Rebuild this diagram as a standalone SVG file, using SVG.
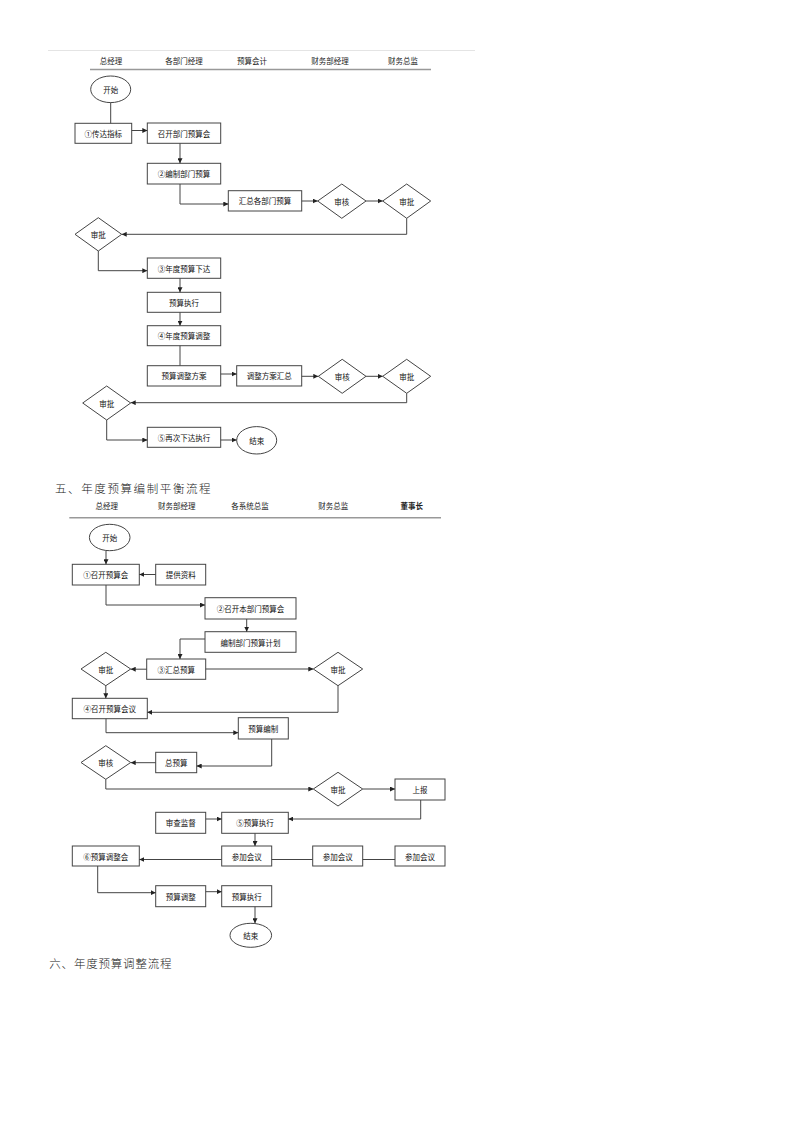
<svg xmlns="http://www.w3.org/2000/svg" width="800" height="1132" viewBox="0 0 800 1132">
<defs>
<marker id="arr" viewBox="0 0 10 10" refX="10" refY="5" markerWidth="5" markerHeight="5" orient="auto" markerUnits="userSpaceOnUse"><path d="M0,0 L10,5 L0,10 z" fill="#222"/></marker>
<style>
.n rect,.n ellipse,.n polygon{fill:#fff;stroke:#444;stroke-width:1}
.t{font-family:"Noto Sans CJK SC","Liberation Sans",sans-serif;font-size:7.5px;fill:#111;text-anchor:middle;dominant-baseline:central}
.h{font-family:"Noto Sans CJK SC","Liberation Sans",sans-serif;font-size:7.5px;fill:#222;text-anchor:middle;dominant-baseline:central}
.sec{font-family:"Noto Sans CJK SC","Liberation Serif",serif;font-size:11.5px;fill:#222;font-weight:300;dominant-baseline:central}
.c path,.c line{fill:none;stroke:#444;stroke-width:1}
.a{marker-end:url(#arr)}
</style>
</defs>
<rect width="800" height="1132" fill="#fff"/>

<!-- Section 1 header -->
<g id="header1">
<line x1="48" y1="50.5" x2="475" y2="50.5" stroke="#e4e4e4" stroke-width="1"/>
<text class="h" x="111" y="60">总经理</text>
<text class="h" x="184" y="60">各部门经理</text>
<text class="h" x="252" y="60">预算会计</text>
<text class="h" x="330" y="60">财务部经理</text>
<text class="h" x="403" y="60">财务总监</text>
<line x1="90" y1="69.5" x2="431" y2="69.5" stroke="#999" stroke-width="1.5"/>
</g>

<g id="s1-start" class="n"><ellipse cx="110.7" cy="89.3" rx="20" ry="13.3"/><text class="t" x="110.7" y="89.3">开始</text></g>
<g id="s1-n1" class="n"><rect x="75" y="123.3" width="56.7" height="20"/><text class="t" x="103.3" y="133.3">①传达指标</text></g>
<g id="s1-n2" class="n"><rect x="147.3" y="123" width="73.4" height="20.3"/><text class="t" x="184" y="133.2">召开部门预算会</text></g>
<g id="s1-n3" class="n"><rect x="147.3" y="163.3" width="73.4" height="20.7"/><text class="t" x="184" y="173.7">②编制部门预算</text></g>
<g id="s1-n4" class="n"><rect x="228.3" y="190.7" width="73.4" height="20.3"/><text class="t" x="265" y="200.9">汇总各部门预算</text></g>
<g id="s1-d1" class="n"><polygon points="317.7,201 341.8,184 366,201 341.8,218.3"/><text class="t" x="341.8" y="201">审核</text></g>
<g id="s1-d2" class="n"><polygon points="382.7,201 406.7,184 430.7,201 406.7,218.3"/><text class="t" x="406.7" y="201">审批</text></g>
<g id="s1-d3" class="n"><polygon points="75,234.3 98.3,217.7 121.7,234.3 98.3,251"/><text class="t" x="98.3" y="234.3">审批</text></g>
<g id="s1-n5" class="n"><rect x="147.3" y="258" width="73.4" height="20.3"/><text class="t" x="184" y="268.2">③年度预算下达</text></g>
<g id="s1-n6" class="n"><rect x="147.3" y="292.3" width="73.4" height="20"/><text class="t" x="184" y="302.3">预算执行</text></g>
<g id="s1-n7" class="n"><rect x="147.3" y="325.7" width="73.4" height="20"/><text class="t" x="184" y="335.7">④年度预算调整</text></g>
<g id="s1-n8" class="n"><rect x="147.3" y="365.7" width="73.4" height="20.3"/><text class="t" x="184" y="375.9">预算调整方案</text></g>
<g id="s1-n9" class="n"><rect x="236.7" y="365.7" width="65" height="20.3"/><text class="t" x="269.2" y="375.9">调整方案汇总</text></g>
<g id="s1-d4" class="n"><polygon points="318.3,376.3 342.2,359.3 366,376.3 342.2,393.3"/><text class="t" x="342.2" y="376.3">审核</text></g>
<g id="s1-d5" class="n"><polygon points="382.7,376.3 406.7,359.3 430.7,376.3 406.7,393.3"/><text class="t" x="406.7" y="376.3">审批</text></g>
<g id="s1-d6" class="n"><polygon points="82.7,403 106.7,386 130.7,403 106.7,420"/><text class="t" x="106.7" y="403">审批</text></g>
<g id="s1-n10" class="n"><rect x="147.3" y="427.3" width="73.4" height="20"/><text class="t" x="184" y="437.3">⑤再次下达执行</text></g>
<g id="s1-end" class="n"><ellipse cx="256.7" cy="440.3" rx="20" ry="13.7"/><text class="t" x="256.7" y="440.3">结束</text></g>

<g id="connectors1" class="c">
<line x1="110.7" y1="102.6" x2="110.7" y2="123.3"/>
<line class="a" x1="131.7" y1="130.5" x2="147.3" y2="130.5"/>
<line class="a" x1="180" y1="143.3" x2="180" y2="163.3"/>
<path class="a" d="M180,184 V204 H228.3"/>
<line class="a" x1="301.7" y1="201" x2="317.7" y2="201"/>
<line class="a" x1="366" y1="201" x2="382.7" y2="201"/>
<path class="a" d="M406.7,218.3 V234.3 H121.7"/>
<path class="a" d="M98.3,251 V270.7 H147.3"/>
<line class="a" x1="180" y1="278.3" x2="180" y2="292.3"/>
<line class="a" x1="180" y1="312.3" x2="180" y2="325.7"/>
<line x1="180" y1="345.7" x2="180" y2="365.7"/>
<line class="a" x1="220.7" y1="374" x2="236.7" y2="374"/>
<line class="a" x1="301.7" y1="376.3" x2="318.3" y2="376.3"/>
<line class="a" x1="366" y1="376.3" x2="382.7" y2="376.3"/>
<path class="a" d="M406.7,393.3 V402.7 H130.7"/>
<path class="a" d="M106.7,420 V440 H147.3"/>
<line class="a" x1="220.7" y1="440" x2="236.7" y2="440"/>
</g>

<!-- Section 2 -->
<text id="title1" class="sec" x="55" y="487.5" letter-spacing="1.6">五、年度预算编制平衡流程</text>
<g id="header2">
<text class="h" x="106.7" y="505">总经理</text>
<text class="h" x="176.7" y="505">财务部经理</text>
<text class="h" x="250" y="505">各系统总监</text>
<text class="h" x="333.3" y="505">财务总监</text>
<text class="h" x="411.7" y="505" font-weight="bold">董事长</text>
<line x1="69.3" y1="517.7" x2="441" y2="517.7" stroke="#999" stroke-width="1.5"/>
</g>

<g id="s2-start" class="n"><ellipse cx="109.7" cy="537.5" rx="20.3" ry="13.2"/><text class="t" x="109.7" y="537.5">开始</text></g>
<g id="s2-n1" class="n"><rect x="72.3" y="564.3" width="67" height="20.7"/><text class="t" x="105.8" y="574.7">①召开预算会</text></g>
<g id="s2-n2" class="n"><rect x="155.7" y="564.3" width="50" height="20.7"/><text class="t" x="180.7" y="574.7">提供资料</text></g>
<g id="s2-n3" class="n"><rect x="205" y="597.7" width="91" height="21.3"/><text class="t" x="250.5" y="608.3">②召开本部门预算会</text></g>
<g id="s2-n4" class="n"><rect x="205" y="631.7" width="91" height="20.6"/><text class="t" x="250.5" y="642">编制部门预算计划</text></g>
<g id="s2-n5" class="n"><rect x="146.7" y="659" width="59" height="20.3"/><text class="t" x="176.2" y="669.2">③汇总预算</text></g>
<g id="s2-d1" class="n"><polygon points="81,669 105.8,652.3 130.7,669 105.8,685.7"/><text class="t" x="105.8" y="669">审批</text></g>
<g id="s2-d2" class="n"><polygon points="313.3,669 338,652.3 362.7,669 338,685.7"/><text class="t" x="338" y="669">审批</text></g>
<g id="s2-n6" class="n"><rect x="72.3" y="698.3" width="75" height="20.4"/><text class="t" x="109.8" y="708.5">④召开预算会议</text></g>
<g id="s2-n7" class="n"><rect x="238.3" y="717.7" width="50" height="21.3"/><text class="t" x="263.3" y="728.3">预算编制</text></g>
<g id="s2-n8" class="n"><rect x="155.7" y="752.3" width="41" height="20.4"/><text class="t" x="176.2" y="762.5">总预算</text></g>
<g id="s2-d3" class="n"><polygon points="81,762.5 105.8,745.7 130.7,762.5 105.8,779.3"/><text class="t" x="105.8" y="762.5">审核</text></g>
<g id="s2-d4" class="n"><polygon points="313.3,789 338,772.3 362.7,789 338,806"/><text class="t" x="338" y="789">审批</text></g>
<g id="s2-n9" class="n"><rect x="395" y="779" width="50" height="21"/><text class="t" x="420" y="789.5">上报</text></g>
<g id="s2-n10" class="n"><rect x="155.7" y="812.3" width="50" height="21"/><text class="t" x="180.7" y="822.8">审查监督</text></g>
<g id="s2-n11" class="n"><rect x="221.7" y="812.3" width="66.6" height="21"/><text class="t" x="255" y="822.8">⑤预算执行</text></g>
<g id="s2-n12" class="n"><rect x="72.3" y="846" width="67" height="20"/><text class="t" x="105.8" y="856">⑥预算调整会</text></g>
<g id="s2-n13" class="n"><rect x="221.7" y="846" width="50" height="20"/><text class="t" x="246.7" y="856">参加会议</text></g>
<g id="s2-n14" class="n"><rect x="312.7" y="846" width="50" height="20"/><text class="t" x="337.7" y="856">参加会议</text></g>
<g id="s2-n15" class="n"><rect x="395" y="846" width="50" height="20"/><text class="t" x="420" y="856">参加会议</text></g>
<g id="s2-n16" class="n"><rect x="155.7" y="885.7" width="50" height="21"/><text class="t" x="180.7" y="896.2">预算调整</text></g>
<g id="s2-n17" class="n"><rect x="221.7" y="885.7" width="50" height="21"/><text class="t" x="246.7" y="896.2">预算执行</text></g>
<g id="s2-end" class="n"><ellipse cx="250.8" cy="935.3" rx="20.8" ry="12"/><text class="t" x="250.8" y="935.3">结束</text></g>

<g id="connectors2" class="c">
<line class="a" x1="106" y1="550.7" x2="106" y2="564.3"/>
<line class="a" x1="155.7" y1="574.5" x2="139.3" y2="574.5"/>
<path class="a" d="M106,585 V605 H205"/>
<line class="a" x1="246.7" y1="619" x2="246.7" y2="631.7"/>
<path class="a" d="M205,639 H180 V659"/>
<line class="a" x1="146.7" y1="669.2" x2="130.7" y2="669.2"/>
<line class="a" x1="205.7" y1="669" x2="313.3" y2="669"/>
<line class="a" x1="105.8" y1="685.7" x2="105.8" y2="698.3"/>
<path class="a" d="M338,685.7 V712.3 H147.3"/>
<path class="a" d="M106,718.7 V732.7 H238.3"/>
<path class="a" d="M271.7,739 V766 H196.7"/>
<line class="a" x1="155.7" y1="762.7" x2="130.7" y2="762.7"/>
<path class="a" d="M105.8,779.3 V789 H313.3"/>
<line class="a" x1="362.7" y1="789" x2="395" y2="789"/>
<path class="a" d="M420.7,800 V819 H288.3"/>
<line class="a" x1="205.7" y1="819" x2="221.7" y2="819"/>
<line class="a" x1="255" y1="833.3" x2="255" y2="846"/>
<line x1="271.7" y1="859.5" x2="312.7" y2="859.5"/>
<line x1="362.7" y1="859.5" x2="395" y2="859.5"/>
<line class="a" x1="221.7" y1="859.5" x2="139.3" y2="859.5"/>
<path class="a" d="M97.7,866 V892.7 H155.7"/>
<line class="a" x1="205.7" y1="891.7" x2="221.7" y2="891.7"/>
<line class="a" x1="255" y1="906.7" x2="255" y2="923.3"/>
</g>

<text id="title2" class="sec" x="49.3" y="962.7" letter-spacing="0.8">六、年度预算调整流程</text>
</svg>
